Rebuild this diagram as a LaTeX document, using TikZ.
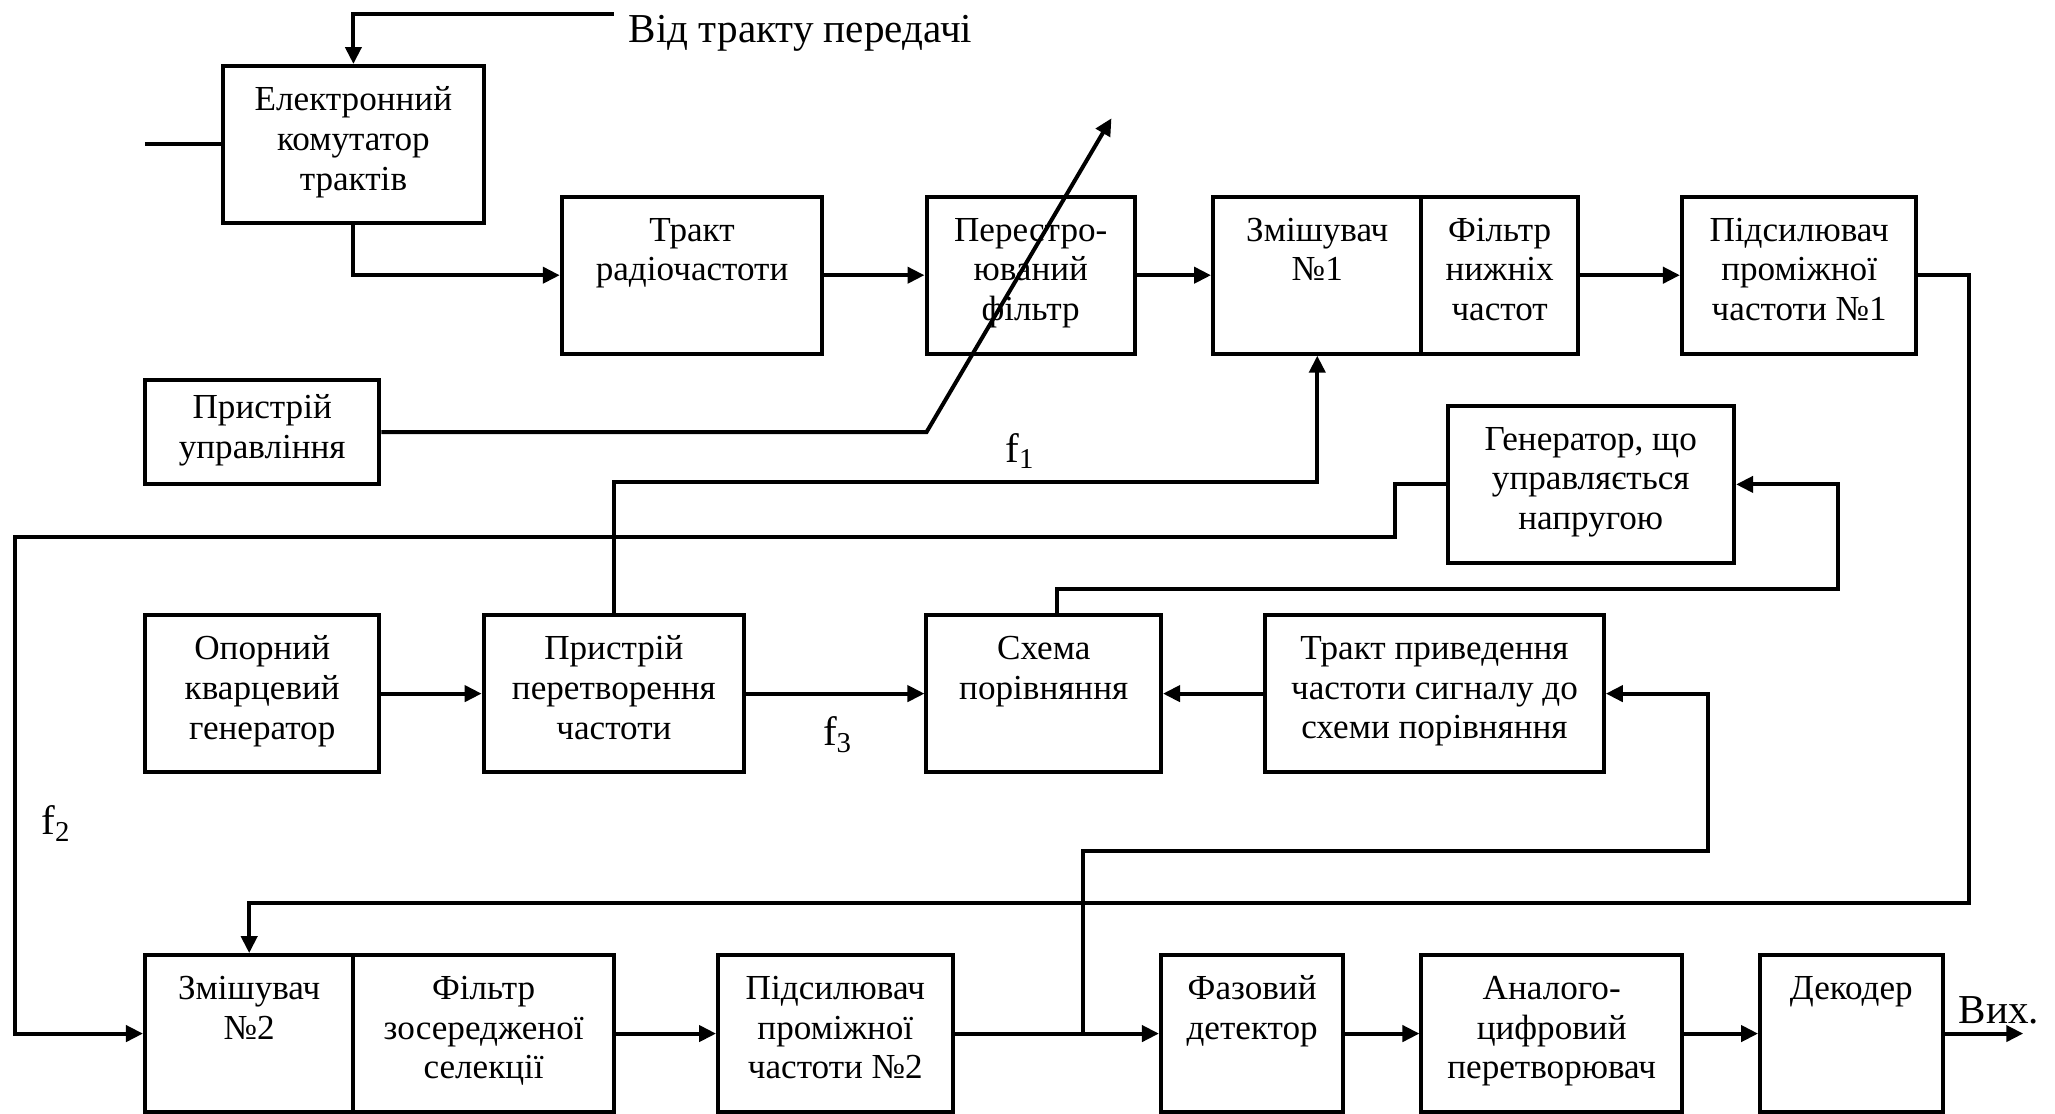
\documentclass[tikz,border=0pt]{standalone}
\usepackage{fontspec}
\setmainfont{Liberation Serif}
\usetikzlibrary{arrows.meta}
\tikzset{
	blk/.style={draw,line width=0.4mm,align=center,inner sep=0pt,font=\fontsize{10}{11.3}\selectfont,
		execute at begin node=\strut,execute at end node=\strut},
	arr/.style={line width=0.4mm,-{Triangle[length=1.7mm,width=1.6mm]}},
	wire/.style={line width=0.4mm},
	lbl/.style={font=\fontsize{11.7}{14}\selectfont,inner sep=0pt,anchor=base west}
}
\begin{document}
\begin{tikzpicture}[x=2.605mm,y=-2.615mm]
			\useasboundingbox(-5.566,-2.524) rectangle (73.32,40.04);
			\node[blk,minimum width=26.05mm,minimum height=15.69mm](kom) at(8,3){Електронний\\комутатор\\трактів};
			\node[blk,minimum width=26.05mm,minimum height=15.69mm](rf) at(21,8){Тракт\\радіочастоти\\~};
			\node[blk,minimum width=20.84mm,minimum height=15.69mm](pf) at(34,8){Перестро-\\юваний\\фільтр};
			\node[blk,minimum width=20.84mm,minimum height=15.69mm](mx1) at(45,8){Змішувач\\№1\\~};
			\node[blk,minimum width=15.63mm,minimum height=15.69mm](lpf) at(52,8){Фільтр\\нижніх\\частот};
			\node[blk,minimum width=23.45mm,minimum height=15.69mm](if1) at(63.5,8){Підсилювач\\проміжної\\частоти №1};
			\node[blk,minimum width=23.45mm,minimum height=10.46mm](ctl) at(4.5,14){Пристрій\\управління};
			\node[blk,minimum width=28.66mm,minimum height=15.69mm](vco) at(55.5,16){Генератор, що\\управляється\\напругою};
			\node[blk,minimum width=23.45mm,minimum height=15.69mm](osc) at(4.5,24){Опорний\\кварцевий\\генератор};
			\node[blk,minimum width=26.05mm,minimum height=15.69mm](conv) at(18,24){Пристрій\\перетворення\\частоти};
			\node[blk,minimum width=23.45mm,minimum height=15.69mm](cmp) at(34.5,24){Схема\\порівняння\\~};
			\node[blk,minimum width=33.87mm,minimum height=15.69mm](tr) at(49.5,24){Тракт приведення\\частоти сигналу до\\схеми порівняння};
			\node[blk,minimum width=20.84mm,minimum height=15.69mm](mx2) at(4,37){Змішувач\\№2\\~};
			\node[blk,minimum width=26.05mm,minimum height=15.69mm](fcs) at(13,37){Фільтр\\зосередженої\\селекції};
			\node[blk,minimum width=23.45mm,minimum height=15.69mm](if2) at(26.5,37){Підсилювач\\проміжної\\частоти №2};
			\node[blk,minimum width=18.24mm,minimum height=15.69mm](pd) at(42.5,37){Фазовий\\детектор\\~};
			\node[blk,minimum width=26.05mm,minimum height=15.69mm](adc) at(54,37){Аналого-\\цифровий\\перетворювач};
			\node[blk,minimum width=18.24mm,minimum height=15.69mm](dec) at(65.5,37){Декодер\\~\\~};
			\coordinate(komin) at(0,3);
			\coordinate(tx) at(18,-2);
			\coordinate(bend) at(30,14);
			\coordinate(tune) at(37.1,2);
			\coordinate(cmpo) at(35,21);
			\coordinate(br) at(36,37);
			\coordinate(out) at(72.1,37);
			\node[lbl](txl) at(18.55,-0.9){Від тракту передачі};
			\node[lbl](f1) at(33,15.15){f\textsubscript{1}};
			\node[lbl](f2) at(-4,29.4){f\textsubscript{2}};
			\node[lbl](f3) at(26,26){f\textsubscript{3}};
			\node[lbl](vykh) at(69.6,36.6){Вих.};
			\draw[wire](komin)--(kom.west);
			\draw[arr](tx)-|(kom.north);
			\draw[arr](kom.south)|-(rf.west);
			\draw[arr](rf)--(pf);
			\draw[arr](pf)--(mx1);
			\draw[arr](lpf)--(if1);
			\draw[arr](if1.east)-|(70,32)-|(mx2.north);
			\draw[arr](ctl.east)--(bend)--(tune);
			\draw[arr](conv.north)--++(0,-5)-|(mx1.south);
			\draw[arr](vco.west)-|(48,18)-|(-5,37)--(mx2.west);
			\draw[arr](cmpo)|-(65,20)|-(vco.east);
			\draw[arr](osc)--(conv);
			\draw[arr](conv)--(cmp);
			\draw[arr](tr)--(cmp);
			\draw[arr](br)|-(60,30)|-(tr.east);
			\draw[arr](fcs)--(if2);
			\draw[arr](if2)--(pd);
			\draw[arr](pd)--(adc);
			\draw[arr](adc)--(dec);
			\draw[arr](dec.east)--(out);
\end{tikzpicture}
\end{document}
